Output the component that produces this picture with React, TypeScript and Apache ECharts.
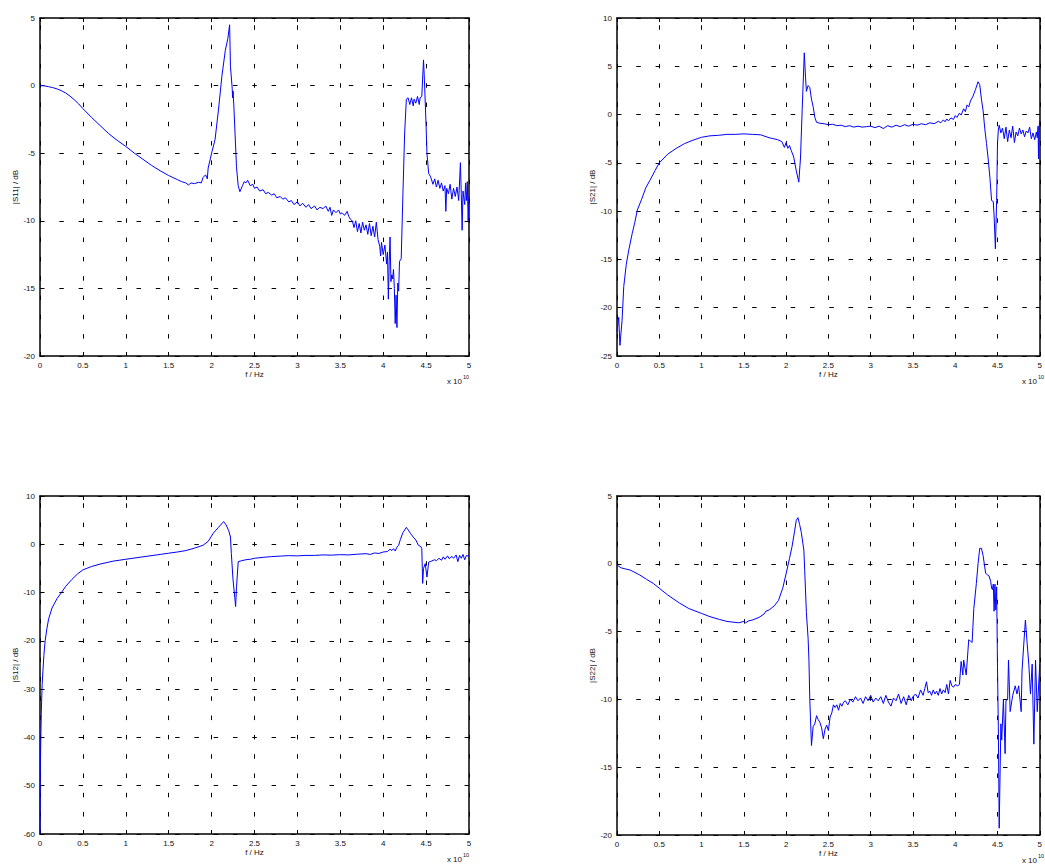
import React, { useEffect, useRef } from "react";
import * as echarts from "echarts";

// frequency in units of 1e10 Hz, magnitude in dB
const s11Points: number[][] = [
  [0, 0], [0.05, -0.02], [0.1, -0.08], [0.15, -0.15], [0.2, -0.25], [0.25, -0.38], [0.3, -0.55], [0.35, -0.78],
  [0.4, -1.05], [0.45, -1.35], [0.5, -1.7], [0.6, -2.35], [0.7, -2.95], [0.8, -3.55], [0.9, -4.05], [1.0, -4.5],
  [1.1, -5.0], [1.2, -5.45], [1.3, -5.9], [1.4, -6.3], [1.5, -6.65], [1.6, -6.95], [1.65, -7.1], [1.7, -7.2],
  [1.73, -7.35], [1.76, -7.2], [1.8, -7.25], [1.85, -7.15], [1.88, -7.2], [1.9, -6.8], [1.93, -6.6], [1.95, -6.9],
  [1.96, -6.1], [2.0, -5.0], [2.04, -4.0], [2.08, -1.8], [2.12, 0.7], [2.16, 2.6], [2.19, 3.5], [2.21, 4.5],
  [2.22, 1.4], [2.24, -0.2], [2.245, -0.9], [2.25, -0.4], [2.26, -1.6], [2.29, -6.0], [2.31, -7.4], [2.33, -7.85],
  [2.36, -7.4], [2.38, -7.1], [2.4, -7.2], [2.42, -7.0], [2.45, -7.4], [2.48, -7.3], [2.5, -7.6], [2.53, -7.5],
  [2.56, -7.8], [2.6, -7.7], [2.63, -8.0], [2.66, -7.9], [2.7, -8.1], [2.73, -8.0], [2.76, -8.3], [2.8, -8.2],
  [2.83, -8.4], [2.86, -8.3], [2.9, -8.6], [2.93, -8.5], [2.96, -8.8], [3.0, -8.6], [3.03, -8.9], [3.06, -8.7],
  [3.1, -9.0], [3.13, -8.8], [3.16, -9.1], [3.2, -8.9], [3.23, -9.2], [3.26, -9.0], [3.3, -9.1], [3.33, -8.9],
  [3.36, -9.3], [3.38, -9.0], [3.4, -9.6], [3.42, -9.2], [3.45, -9.4], [3.48, -9.2], [3.5, -9.5], [3.52, -9.4],
  [3.55, -9.6], [3.58, -9.3], [3.6, -9.7], [3.62, -9.9], [3.64, -10.0], [3.66, -10.5], [3.68, -10.0], [3.7, -10.8],
  [3.72, -10.2], [3.74, -10.9], [3.76, -10.1], [3.78, -10.7], [3.8, -10.3], [3.82, -11.0], [3.84, -10.2], [3.86, -11.1],
  [3.88, -10.4], [3.9, -11.2], [3.92, -10.1], [3.94, -11.4], [3.96, -11.9], [3.97, -12.6], [3.98, -11.6], [4.0, -12.5],
  [4.02, -11.8], [4.04, -13.2], [4.05, -12.3], [4.06, -15.8], [4.07, -13.0], [4.08, -11.2], [4.09, -14.5], [4.1, -14.0],
  [4.11, -14.3], [4.12, -13.6], [4.13, -15.0], [4.14, -17.6], [4.15, -15.5], [4.16, -17.9], [4.17, -14.6], [4.18, -15.2],
  [4.19, -13.0], [4.21, -12.8], [4.23, -8.0], [4.25, -3.5], [4.27, -1.0], [4.29, -0.9], [4.31, -1.4], [4.33, -0.9],
  [4.35, -1.5], [4.36, -1.0], [4.38, -1.3], [4.4, -0.8], [4.42, -1.4], [4.43, -0.9], [4.45, -0.8], [4.47, 1.9],
  [4.48, 0.5], [4.5, -3.0], [4.51, -5.0], [4.53, -6.5], [4.55, -6.7], [4.58, -7.3], [4.6, -6.9], [4.62, -7.5],
  [4.64, -7.0], [4.66, -7.6], [4.68, -7.2], [4.7, -7.8], [4.72, -7.4], [4.73, -9.3], [4.74, -7.6], [4.76, -8.0],
  [4.78, -7.3], [4.8, -8.4], [4.82, -7.6], [4.84, -8.2], [4.86, -7.5], [4.88, -8.5], [4.9, -5.7], [4.91, -8.0],
  [4.92, -10.7], [4.93, -7.8], [4.95, -8.8], [4.96, -7.2], [4.97, -8.5], [4.98, -7.1], [4.99, -10.0], [5.0, -8.2],
];

const s21Points: number[][] = [
  [0, -22.5], [0.02, -21.0], [0.035, -23.9], [0.06, -21.3], [0.08, -17.8], [0.11, -15.5], [0.14, -14.0], [0.18, -12.3],
  [0.21, -11.2], [0.24, -9.9], [0.29, -8.8], [0.34, -7.6], [0.39, -6.8], [0.45, -5.8], [0.5, -5.0], [0.6, -4.1],
  [0.7, -3.5], [0.8, -3.0], [0.9, -2.65], [1.0, -2.35], [1.1, -2.2], [1.2, -2.15], [1.3, -2.05], [1.4, -2.05],
  [1.5, -2.0], [1.6, -2.05], [1.7, -2.1], [1.8, -2.4], [1.85, -2.5], [1.9, -2.6], [1.95, -2.8], [1.98, -3.4],
  [2.0, -2.9], [2.02, -3.5], [2.04, -3.2], [2.06, -3.7], [2.09, -4.4], [2.12, -5.8], [2.15, -7.0], [2.17, -4.5],
  [2.19, 0.5], [2.215, 6.4], [2.23, 3.8], [2.24, 2.4], [2.26, 3.0], [2.28, 2.8], [2.3, 1.6], [2.32, 0.8],
  [2.34, -0.3], [2.36, -0.8], [2.4, -0.9], [2.45, -0.95], [2.5, -1.05], [2.55, -1.0], [2.6, -1.15], [2.65, -1.1],
  [2.7, -1.25], [2.75, -1.15], [2.8, -1.3], [2.85, -1.2], [2.9, -1.3], [2.95, -1.25], [3.0, -1.2], [3.05, -1.35],
  [3.1, -1.2], [3.15, -1.45], [3.2, -1.15], [3.25, -1.3], [3.3, -1.1], [3.35, -1.25], [3.4, -1.05], [3.45, -1.2],
  [3.5, -1.0], [3.55, -1.1], [3.6, -0.95], [3.65, -1.05], [3.7, -0.85], [3.75, -0.95], [3.8, -0.7], [3.83, -0.85],
  [3.86, -0.55], [3.88, -0.75], [3.9, -0.45], [3.92, -0.65], [3.95, -0.35], [3.98, -0.5], [4.0, -0.1], [4.02, -0.3],
  [4.05, 0.15], [4.07, -0.05], [4.1, 0.6], [4.12, 0.3], [4.14, 1.0], [4.16, 0.8], [4.18, 1.4], [4.21, 1.9],
  [4.24, 2.6], [4.27, 3.4], [4.29, 3.1], [4.31, 1.6], [4.33, 0.4], [4.35, -1.5], [4.37, -3.0], [4.39, -4.6],
  [4.41, -6.5], [4.43, -8.9], [4.45, -9.0], [4.46, -10.5], [4.475, -13.9], [4.49, -8.9], [4.5, -3.0], [4.51, -1.6],
  [4.52, -1.1], [4.54, -1.9], [4.56, -1.4], [4.58, -2.5], [4.6, -1.3], [4.62, -2.8], [4.64, -1.6], [4.66, -2.4],
  [4.68, -1.2], [4.7, -2.9], [4.72, -1.8], [4.74, -2.2], [4.76, -1.4], [4.78, -2.0], [4.8, -1.6], [4.82, -2.3],
  [4.84, -1.7], [4.86, -1.9], [4.88, -1.3], [4.9, -2.5], [4.92, -1.9], [4.94, -2.6], [4.96, -1.8], [4.97, -2.4],
  [4.98, -1.2], [4.985, -4.6], [4.99, -1.5], [5.0, -0.6],
];

const s12Points: number[][] = [
  [0, -60], [0.005, -45], [0.015, -35], [0.025, -29], [0.035, -26], [0.045, -23], [0.06, -20], [0.08, -17.5],
  [0.1, -15.5], [0.14, -13.2], [0.2, -11.2], [0.25, -10], [0.3, -8.7], [0.37, -7.3], [0.44, -6.1], [0.5, -5.3],
  [0.6, -4.6], [0.7, -4.1], [0.85, -3.5], [1.0, -3.1], [1.2, -2.6],
  [1.4, -2.1], [1.5, -1.85], [1.6, -1.6], [1.7, -1.3], [1.8, -0.8], [1.9, -0.2], [1.96, 0.6], [2.02, 2.3],
  [2.08, 3.5], [2.14, 4.7], [2.17, 4.0], [2.2, 2.8], [2.22, 1.5], [2.23, -1.9], [2.25, -7.4], [2.27, -11.0],
  [2.28, -12.9], [2.29, -9.0], [2.31, -3.6], [2.35, -3.4], [2.4, -3.2], [2.45, -3.1], [2.5, -2.9], [2.6, -2.7],
  [2.7, -2.55], [2.8, -2.45], [2.9, -2.35], [3.0, -2.4], [3.1, -2.3], [3.2, -2.3], [3.3, -2.2], [3.4, -2.25],
  [3.5, -2.15], [3.6, -2.2], [3.7, -2.05], [3.8, -1.95], [3.85, -2.1], [3.9, -1.8], [3.95, -1.9], [4.0, -1.6],
  [4.05, -1.5], [4.08, -1.0], [4.1, -1.3], [4.12, -0.9], [4.14, -1.4], [4.16, -0.6], [4.18, -0.2], [4.2, 1.0],
  [4.23, 2.4], [4.27, 3.5], [4.29, 3.0], [4.32, 2.2], [4.35, 1.5], [4.38, 0.9], [4.41, -0.2], [4.44, -0.5],
  [4.45, -0.9], [4.46, -8.1], [4.47, -5.0], [4.49, -4.0], [4.51, -6.8], [4.53, -3.7], [4.56, -3.5], [4.6, -3.2],
  [4.62, -3.4], [4.65, -2.9], [4.68, -3.3], [4.7, -2.6], [4.72, -3.1], [4.75, -2.4], [4.77, -3.0], [4.8, -2.5],
  [4.82, -2.9], [4.85, -2.2], [4.87, -3.6], [4.89, -2.3], [4.91, -2.9], [4.93, -2.1], [4.95, -3.2], [4.97, -2.3],
  [5.0, -2.5],
];

const s22Points: number[][] = [
  [0, -0.1], [0.05, -0.3], [0.1, -0.38], [0.155, -0.46], [0.2, -0.6], [0.27, -0.83], [0.35, -1.15], [0.43, -1.45],
  [0.5, -1.8], [0.6, -2.3], [0.74, -2.9], [0.85, -3.3], [1.0, -3.66], [1.1, -3.9], [1.21, -4.1], [1.3, -4.25],
  [1.44, -4.35], [1.5, -4.25], [1.52, -4.35], [1.56, -4.2], [1.6, -4.15], [1.68, -3.95], [1.74, -3.7], [1.76, -3.5],
  [1.8, -3.4], [1.86, -3.1], [1.91, -2.7], [1.96, -1.8], [2.01, -0.46], [2.04, 0.4], [2.07, 1.26], [2.1, 2.4],
  [2.12, 3.2], [2.14, 3.4], [2.16, 2.9], [2.18, 2.3], [2.21, 1.0], [2.22, -0.5], [2.24, -3.6], [2.26, -5.5],
  [2.27, -7.1], [2.28, -10.0], [2.3, -13.4], [2.32, -12.0], [2.34, -11.8], [2.36, -11.2], [2.38, -11.5], [2.4, -11.7],
  [2.42, -12.1], [2.44, -12.9], [2.46, -12.2], [2.48, -11.9], [2.5, -12.3], [2.52, -11.3], [2.54, -11.0], [2.56, -10.4],
  [2.58, -10.6], [2.6, -10.4], [2.62, -10.8], [2.64, -10.3], [2.66, -10.5], [2.68, -10.2], [2.7, -10.1], [2.73, -10.4],
  [2.76, -10.0], [2.79, -10.2], [2.82, -9.8], [2.85, -10.1], [2.88, -9.9], [2.91, -10.3], [2.94, -9.8], [2.97, -10.1],
  [3.0, -9.7], [3.03, -10.2], [3.06, -9.9], [3.09, -10.1], [3.12, -9.8], [3.15, -10.3], [3.18, -9.7], [3.21, -10.2],
  [3.24, -10.5], [3.27, -9.9], [3.3, -10.1], [3.33, -9.6], [3.36, -10.3], [3.39, -9.8], [3.42, -10.4], [3.45, -9.7],
  [3.48, -10.1], [3.5, -9.8], [3.53, -9.6], [3.56, -9.9], [3.59, -9.3], [3.62, -9.7], [3.64, -9.2], [3.66, -8.7],
  [3.68, -9.5], [3.7, -9.4], [3.72, -9.7], [3.74, -9.3], [3.76, -9.6], [3.78, -9.4], [3.8, -9.7], [3.82, -9.2],
  [3.84, -9.6], [3.86, -9.3], [3.88, -9.5], [3.9, -8.9], [3.92, -9.6], [3.94, -8.6], [3.96, -9.0], [3.98, -9.1],
  [4.0, -8.9], [4.03, -9.0], [4.05, -8.9], [4.07, -7.2], [4.09, -8.2], [4.1, -7.1], [4.13, -8.2], [4.16, -5.6],
  [4.18, -5.7], [4.2, -5.8], [4.22, -3.3], [4.25, -1.45], [4.27, 0.0], [4.29, 1.14], [4.31, 1.14], [4.33, 0.6],
  [4.36, -0.7], [4.38, -0.8], [4.4, -0.9], [4.42, -1.3], [4.43, -1.8], [4.44, -1.9], [4.45, -1.5], [4.46, -3.5],
  [4.47, -1.5], [4.48, -3.4], [4.49, -1.7], [4.5, -7.6], [4.51, -12.0], [4.52, -19.5], [4.54, -11.8], [4.55, -13.0],
  [4.57, -10.0], [4.59, -14.0], [4.6, -10.1], [4.62, -10.0], [4.63, -7.1], [4.65, -10.9], [4.68, -9.7], [4.71, -9.0],
  [4.73, -9.6], [4.75, -9.0], [4.78, -10.9], [4.79, -7.9], [4.81, -6.0], [4.83, -4.15], [4.85, -5.8], [4.87, -7.4],
  [4.89, -9.6], [4.91, -7.4], [4.93, -13.3], [4.95, -7.1], [4.97, -10.9], [5.0, -7.4],
];

const yNames = ["|S11| / dB", "|S21| / dB", "|S12| / dB", "|S22| / dB"];
const yRanges = [
  [-20, 5, 5],
  [-25, 10, 5],
  [-60, 10, 10],
  [-20, 5, 5],
];
const xRange = [0, 5, 0.5];
const xName = "f / Hz";
const seriesData = [s11Points, s21Points, s12Points, s22Points];

// layout (pixels)
const layout = [
  { left: 40, top: 18, width: 429, height: 338 },
  { left: 617, top: 18, width: 427, height: 338 },
  { left: 40, top: 496, width: 429, height: 338 },
  { left: 617, top: 496, width: 427, height: 339 },
];

const FONT = "'Liberation Sans', Arial, Helvetica, sans-serif";

export default function App() {
  const ref = useRef<HTMLDivElement>(null);
  useEffect(() => {
    if (!ref.current) return;
    const chart = echarts.init(ref.current, undefined, { renderer: "svg" });
    const grid: any[] = [];
    const xAxis: any[] = [];
    const yAxis: any[] = [];
    const series: any[] = [];
    const graphic: any[] = [];
    const black = "#000";
    layout.forEach((g, i) => {
      grid.push({ left: g.left, top: g.top, width: g.width, height: g.height, containLabel: false });
      const line = { show: true, onZero: false, lineStyle: { color: black, width: 1.5 } };
      const tick = { show: true, inside: true, length: 4, lineStyle: { color: black, width: 1 } };
      const lbl = { fontSize: 8, color: "#111", fontFamily: FONT, margin: 5 };
      xAxis.push({
        gridIndex: i, type: "value", position: "bottom",
        min: xRange[0], max: xRange[1], interval: xRange[2],
        axisLine: line, axisTick: tick, axisLabel: lbl,
        splitLine: { show: true, lineStyle: { color: black, width: 1, type: [4.5, 14.8], dashOffset: 12.3 } },
        name: xName, nameLocation: "middle", nameGap: 14,
        nameTextStyle: { fontSize: 8, color: "#111", fontFamily: FONT },
      });
      xAxis.push({
        gridIndex: i, type: "value", position: "top",
        min: xRange[0], max: xRange[1], interval: xRange[2],
        axisLine: line, axisTick: tick, axisLabel: { show: false }, splitLine: { show: false },
      });
      const [ymin, ymax, ystep] = yRanges[i];
      yAxis.push({
        gridIndex: i, type: "value", position: "left",
        min: ymin, max: ymax, interval: ystep,
        axisLine: line, axisTick: tick, axisLabel: lbl,
        splitLine: { show: true, lineStyle: { color: black, width: 1, type: [4.5, 14.8], dashOffset: 0 } },
        name: yNames[i], nameLocation: "middle", nameGap: 21,
        nameTextStyle: { fontSize: 8, color: "#111", fontFamily: FONT },
      });
      yAxis.push({
        gridIndex: i, type: "value", position: "right",
        min: ymin, max: ymax, interval: ystep,
        axisLine: line, axisTick: tick, axisLabel: { show: false }, splitLine: { show: false },
      });
      series.push({
        type: "line",
        xAxisIndex: 2 * i,
        yAxisIndex: 2 * i,
        data: seriesData[i],
        showSymbol: false,
        symbol: "none",
        lineStyle: { color: "#0000ff", width: 1 },
        clip: true,
      });
      const right = g.left + g.width;
      const bottom = g.top + g.height;
      graphic.push({
        type: "text", x: right - 7, y: bottom + 25,
        style: { text: "x 10", fontSize: 8, fill: "#111", fontFamily: FONT, align: "right", verticalAlign: "middle" },
      });
      graphic.push({
        type: "text", x: right - 6, y: bottom + 21,
        style: { text: "10", fontSize: 5.5, fill: "#111", fontFamily: FONT, align: "left", verticalAlign: "middle" },
      });
    });
    chart.setOption({
      animation: false,
      backgroundColor: "#fff",
      grid, xAxis, yAxis, series, graphic,
    });
    return () => chart.dispose();
  }, []);
  return (
    <div
      ref={ref}
      style={{ position: "absolute", left: 0, top: 0, width: 1045, height: 864 }}
    />
  );
}
